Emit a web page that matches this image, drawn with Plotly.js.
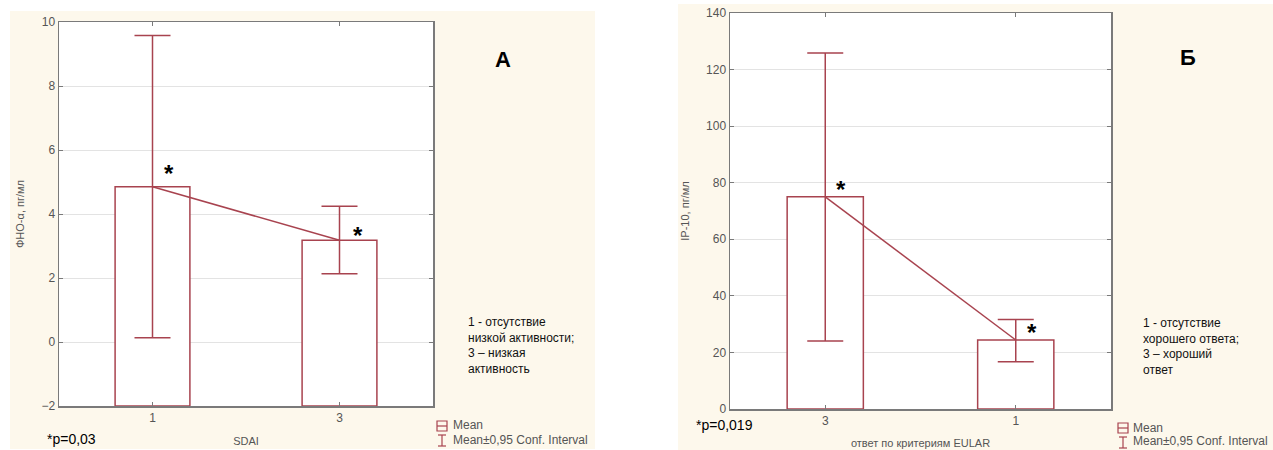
<!DOCTYPE html>
<html><head><meta charset="utf-8">
<script src="https://cdn.plot.ly/plotly-3.0.1.min.js"></script>
<style>html,body{margin:0;padding:0;background:#fff;overflow:hidden}</style>
</head><body><div id="chart" style="width:1273px;height:450px"></div>
<script>
// ---- data: panel А ----
const catsA = ['1', '3'];
const meansA = [4.85, 3.18];
const ciLowA = [0.13, 2.13];
const ciHighA = [9.58, 4.24];
const floorA = -2;
const yRangeA = [-2, 10];
// ---- data: panel Б ----
const catsB = ['3', '1'];
const meansB = [75.0, 24.4];
const ciLowB = [24.0, 16.7];
const ciHighB = [125.9, 31.6];
const floorB = 0;
const yRangeB = [0, 140];

const W = 1273, H = 450;
const px = x => x / W, py = y => 1 - y / H;
const RED = '#a8434f';
const GREY = '#555555';
const AX = '#7a7a7a';
const CREAM = '#fdf8ec';
const tickFont = {family: 'Liberation Sans Narrow, Liberation Sans, Arial, sans-serif', size: 12, color: GREY};
const titleFont = {family: 'Liberation Sans Narrow, Liberation Sans, Arial, sans-serif', size: 11, color: GREY};
const txtFont = {family: 'Liberation Sans, Arial, sans-serif', size: 12, color: '#111'};

function panel(cats, means, lo, hi, floor, xa, ya) {
  return [
    {type: 'bar', x: cats, y: means.map(m => m - floor), base: floor, width: 0.4,
     xaxis: xa, yaxis: ya, marker: {color: '#ffffff', line: {color: RED, width: 1.5}},
     hoverinfo: 'skip', showlegend: false},
    {type: 'scatter', mode: 'lines', x: cats, y: means, xaxis: xa, yaxis: ya,
     line: {color: RED, width: 1.5}, hoverinfo: 'skip', showlegend: false,
     error_y: {type: 'data', array: hi.map((h, i) => h - means[i]),
               arrayminus: lo.map((l, i) => means[i] - l),
               color: RED, thickness: 1.5, width: 18}}
  ];
}

const data = [
  ...panel(catsA, meansA, ciLowA, ciHighA, floorA, 'x', 'y'),
  ...panel(catsB, meansB, ciLowB, ciHighB, floorB, 'x2', 'y2')
];

function xAxis(dom, anchor, title, standoff) {
  return {domain: dom, anchor: anchor, type: 'category', range: [-0.5, 1.5],
    showline: true, mirror: 'ticks', linecolor: AX, linewidth: 1.5,
    ticks: 'inside', ticklen: 4, tickcolor: AX, showgrid: false, zeroline: false,
    tickfont: tickFont, automargin: false, fixedrange: true,
    title: {text: title, font: titleFont, standoff: standoff}};
}
function yAxis(dom, anchor, range, dtick, title) {
  return {domain: dom, anchor: anchor, range: range, dtick: dtick,
    showline: true, mirror: 'ticks', linecolor: AX, linewidth: 1.5,
    ticks: 'inside', ticklen: 4, tickcolor: AX, showgrid: true, gridcolor: '#e3e3e3',
    gridwidth: 1, zeroline: false, tickfont: tickFont, automargin: false, fixedrange: true,
    title: {text: title, font: titleFont, standoff: 14}};
}

const shapes = [
  {type: 'rect', xref: 'paper', yref: 'paper', x0: px(10), x1: px(595), y0: py(449), y1: py(11),
   fillcolor: CREAM, line: {width: 0}, layer: 'below'},
  {type: 'rect', xref: 'paper', yref: 'paper', x0: px(678), x1: px(1273), y0: py(450), y1: py(4),
   fillcolor: CREAM, line: {width: 0}, layer: 'below'},
  {type: 'rect', xref: 'x domain', yref: 'y domain', x0: 0, x1: 1, y0: 0, y1: 1,
   fillcolor: '#ffffff', line: {width: 0}, layer: 'below'},
  {type: 'rect', xref: 'x2 domain', yref: 'y2 domain', x0: 0, x1: 1, y0: 0, y1: 1,
   fillcolor: '#ffffff', line: {width: 0}, layer: 'below'}
];
// manual legends
function legendMarks(x, yBox) {
  const s = [];
  s.push({type: 'rect', xref: 'paper', yref: 'paper', x0: px(x - 5), x1: px(x + 5),
    y0: py(yBox + 5), y1: py(yBox - 5), line: {color: RED, width: 1.2}, fillcolor: 'rgba(0,0,0,0)'});
  s.push({type: 'line', xref: 'paper', yref: 'paper', x0: px(x - 5), x1: px(x + 5),
    y0: py(yBox), y1: py(yBox), line: {color: RED, width: 1.2}});
  const t = yBox + 9, b = yBox + 20;
  s.push({type: 'line', xref: 'paper', yref: 'paper', x0: px(x), x1: px(x), y0: py(t), y1: py(b), line: {color: RED, width: 1.2}});
  s.push({type: 'line', xref: 'paper', yref: 'paper', x0: px(x - 4), x1: px(x + 4), y0: py(t), y1: py(t), line: {color: RED, width: 1.2}});
  s.push({type: 'line', xref: 'paper', yref: 'paper', x0: px(x - 4), x1: px(x + 4), y0: py(b), y1: py(b), line: {color: RED, width: 1.2}});
  return s;
}
shapes.push(...legendMarks(442, 426), ...legendMarks(1123, 428));

function pAnn(x, y, text, font, xanchor) {
  return {xref: 'paper', yref: 'paper', x: px(x), y: py(y), text: text, showarrow: false,
    font: font, xanchor: xanchor || 'left', yanchor: 'middle', align: 'left'};
}
function star(xa, ya, idx, yv, dx, dy) {
  return {xref: xa, yref: ya, x: idx, y: yv, xshift: dx, yshift: dy, text: '<b>*</b>',
    showarrow: false, font: {family: 'Liberation Sans, Arial, sans-serif', size: 24, color: '#000'}};
}
const legFont = {family: 'Liberation Sans Narrow, Liberation Sans, Arial, sans-serif', size: 12, color: GREY};
const annotations = [
  pAnn(503, 60, '<b>А</b>', {family: 'Liberation Sans, Arial', size: 22, color: '#000'}, 'center'),
  pAnn(1188, 57, '<b>Б</b>', {family: 'Liberation Sans, Arial', size: 22, color: '#000'}, 'center'),
  pAnn(466, 345, '1 - отсутствие<br>низкой активности;<br>3 – низкая<br>активность', txtFont),
  pAnn(1141, 346, '1 - отсутствие<br>хорошего ответа;<br>3 – хороший<br>ответ', txtFont),
  pAnn(45, 439, '*p=0,03', {family: 'Liberation Sans, Arial', size: 14, color: '#000'}),
  pAnn(694, 425, '*p=0,019', {family: 'Liberation Sans, Arial', size: 14, color: '#000'}),
  pAnn(451, 425, 'Mean', legFont),
  pAnn(451, 440, 'Mean±0,95 Conf. Interval', legFont),
  pAnn(1131, 428, 'Mean', legFont),
  pAnn(1131, 441, 'Mean±0,95 Conf. Interval', legFont),
  star('x', 'y', 0, meansA[0], 16, 13),
  star('x', 'y', 1, meansA[1], 18, 5),
  star('x2', 'y2', 0, meansB[0], 16, 7),
  star('x2', 'y2', 1, meansB[1], 16, 7)
];

const layout = {
  width: W, height: H, margin: {l: 0, r: 0, t: 0, b: 0, pad: 0},
  paper_bgcolor: '#ffffff', plot_bgcolor: 'rgba(0,0,0,0)', showlegend: false, barmode: 'overlay',
  xaxis: xAxis([px(59), px(433)], 'y', 'SDAI', 13),
  yaxis: yAxis([py(406), py(22)], 'x', yRangeA, 2, 'ФНО-α, пг/мл'),
  xaxis2: xAxis([px(730), px(1111)], 'y2', 'ответ по критериям EULAR', 12),
  yaxis2: yAxis([py(409), py(13)], 'x2', yRangeB, 20, 'IP-10, пг/мл'),
  shapes: shapes, annotations: annotations
};
Plotly.newPlot('chart', data, layout, {staticPlot: true, displayModeBar: false});
</script></body></html>
